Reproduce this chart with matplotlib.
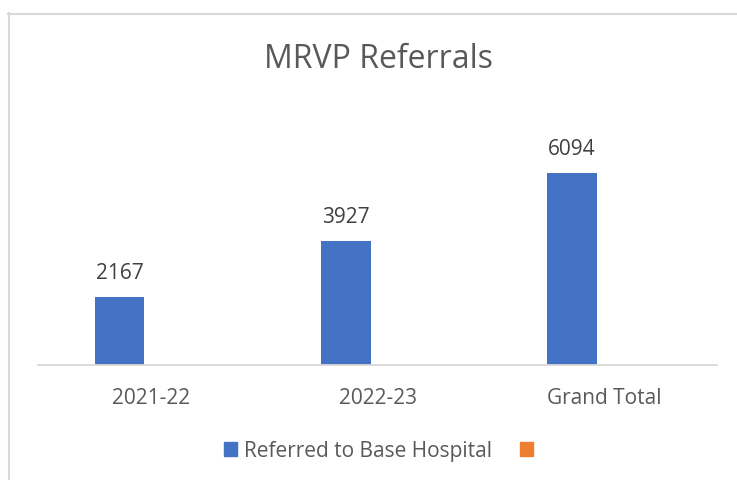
import numpy as np
import matplotlib.pyplot as plt
from matplotlib.patches import Patch
from matplotlib.lines import Line2D

categories = ['2021-22', '2022-23', 'Grand Total']
referred = [2167, 3927, 6094]
series_names = ['Referred to Base Hospital', '']

BLUE = '#4472C4'
ORANGE = '#ED7D31'
GREY = '#595959'
LIGHT = '#D9D9D9'

plt.rcParams['font.family'] = ['Open Sans', 'DejaVu Sans']

W, H = 737, 481
fig = plt.figure(figsize=(W / 100, H / 100), dpi=100)
ax = fig.add_axes([38 / W, (H - 366) / H, (717 - 38) / W, (366 - 145.5) / H])

x = np.arange(len(categories))
# clustered layout: blue sits left, the (empty) orange series takes the right slot
bars = ax.bar(x - 0.14, referred, width=0.22, color=BLUE)
for b, v in zip(bars, referred):
    ax.annotate(str(v), (b.get_x() + b.get_width() / 2, v), xytext=(0, 10),
                textcoords='offset points', ha='center', va='bottom',
                fontsize=15, color='#404040')

ax.set_xlim(-0.5, 2.5)
ax.set_ylim(0, 7000)
ax.set_yticks([])
ax.set_xticks(x)
ax.set_xticklabels(categories, fontsize=15, color=GREY)
ax.tick_params(axis='x', length=0, pad=16)
for s in ['top', 'right', 'left']:
    ax.spines[s].set_visible(False)
ax.spines['bottom'].set_color(LIGHT)
ax.spines['bottom'].set_linewidth(1.3)

fig.text(378 / W, 1 - 60 / H, 'MRVP Referrals', ha='center', va='center',
         fontsize=23, color=GREY)

handles = [Patch(color=BLUE), Patch(color=ORANGE)]
fig.legend(handles, series_names, loc='center', bbox_to_anchor=(382 / W, 1 - 452 / H),
           ncol=2, frameon=False, fontsize=15, labelcolor=GREY,
           handlelength=0.65, handleheight=0.65, handletextpad=0.35, columnspacing=1.3)

# chart frame (only left and top edges visible in the crop)
fig.add_artist(Line2D([8.5 / W, 8.5 / W], [1 - 14 / H, 0], transform=fig.transFigure,
                      color=LIGHT, lw=1.5))
fig.add_artist(Line2D([8 / W, 1], [1 - 14.5 / H, 1 - 14.5 / H], transform=fig.transFigure,
                      color=LIGHT, lw=1.5))

fig.savefig('out.png', dpi=100, facecolor='white')
